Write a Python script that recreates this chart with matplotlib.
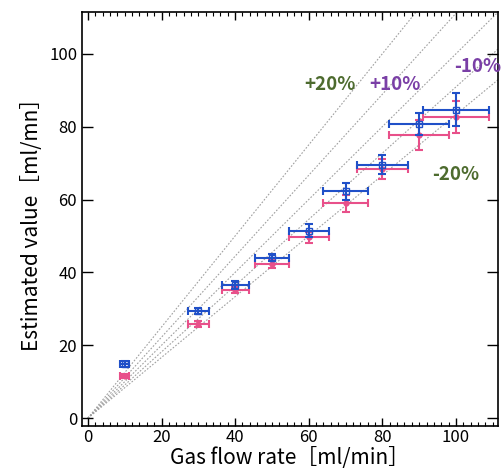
import matplotlib
matplotlib.use("Agg")
import matplotlib.pyplot as plt
import numpy as np
from matplotlib.ticker import MultipleLocator

# data
flow = [10, 30, 40, 50, 60, 70, 80, 90, 100]
blue_y = [14.8, 29.3, 36.5, 44.0, 51.4, 62.2, 69.6, 80.8, 84.6]
blue_xerr = [1.2, 2.8, 3.7, 4.5, 5.5, 6.0, 7.0, 8.1, 9.0]
blue_yerr = [0.8, 0.8, 1.0, 1.0, 1.8, 2.2, 2.6, 3.0, 4.5]
pink_y = [11.6, 25.9, 35.2, 42.3, 49.6, 59.0, 68.3, 77.7, 82.6]
pink_xerr = [1.2, 2.8, 3.7, 4.5, 5.5, 6.0, 7.0, 8.1, 9.0]
pink_yerr = [0.6, 0.8, 0.8, 1.0, 1.5, 2.3, 2.8, 4.0, 4.3]

# reference lines (+20%, +10%, 0, -10%, -20%)
ratios = [0.8, 0.9, 1.0, 1.1, 1.2]
labels = ["+20%", "+10%", "-10%", "-20%"]
label_pos = [(65.8, 91.5), (83.4, 91.5), (106.0, 96.4), (100.0, 66.8)]
label_col = ["#4d6b2e", "#7a3fa6", "#7a3fa6", "#4d6b2e"]

plt.rcParams['font.family'] = ['Noto Sans CJK JP', 'DejaVu Sans']

fig = plt.figure(figsize=(5.03, 4.73), dpi=100)
ax = fig.add_axes([0.163, 0.099, 0.827, 0.876])

xx = np.array([0, 120])
for r in ratios:
    ax.plot(xx, xx / r, color="#a0a0a0", lw=0.8, ls=(0, (1.5, 1.5)), zorder=1)

ax.errorbar(flow, pink_y, xerr=pink_xerr, yerr=pink_yerr, fmt="o", ms=3.5,
            color="#e8508a", mfc="#e8508a", ecolor="#e8508a", elinewidth=1.5,
            capsize=3, capthick=1.5, zorder=3)
ax.errorbar(flow, blue_y, xerr=blue_xerr, yerr=blue_yerr, fmt="s", ms=4,
            color="#2050c8", mfc="none", ecolor="#2050c8", elinewidth=1.5,
            capsize=3, capthick=1.5, zorder=4)

for t, (px, py), c in zip(labels, label_pos, label_col):
    ax.text(px, py, t, color=c, fontsize=13.5, fontweight="bold",
            ha="center", va="center", zorder=5)

ax.set_xlim(-1.6, 111.4)
ax.set_ylim(-2.2, 111.5)

ax.xaxis.set_major_locator(MultipleLocator(20))
ax.xaxis.set_minor_locator(MultipleLocator(2))
ax.yaxis.set_major_locator(MultipleLocator(20))
ax.tick_params(axis="x", which="major", direction="in", top=True, bottom=True,
               length=6, width=1, labelsize=12, pad=2)
ax.tick_params(axis="x", which="minor", direction="in", top=True, bottom=True,
               length=3, width=0.8)
ax.tick_params(axis="y", which="major", direction="in", left=True, right=True,
               length=8, width=1, labelsize=12)
for s in ax.spines.values():
    s.set_linewidth(1.2)

ax.set_xlabel("Gas flow rate［ml/min］", fontsize=15, labelpad=1)
ax.set_ylabel("Estimated value［ml/mn］", fontsize=15, labelpad=4)

fig.savefig("out.png", dpi=100)
